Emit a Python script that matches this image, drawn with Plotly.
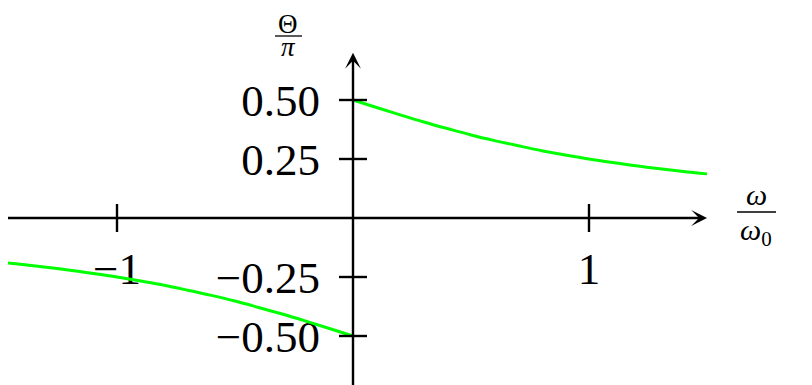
import plotly.graph_objects as go

# Data: phase Θ/π versus ω/ω0
omega_pos = [0.0, 0.1, 0.2, 0.3, 0.4, 0.5, 0.6, 0.7, 0.8, 0.9, 1.0, 1.1, 1.2, 1.3, 1.4, 1.5]
theta_pos = [0.500, 0.468, 0.437, 0.407, 0.379, 0.352, 0.328, 0.306, 0.285, 0.267,
             0.250, 0.235, 0.221, 0.209, 0.197, 0.187]
omega_neg = [-1.5, -1.4, -1.3, -1.2, -1.1, -1.0, -0.9, -0.8, -0.7, -0.6, -0.5, -0.4, -0.3, -0.2, -0.1, 0.0]
theta_neg = [-0.187, -0.197, -0.209, -0.221, -0.235, -0.250, -0.267, -0.285, -0.306, -0.328,
             -0.352, -0.379, -0.407, -0.437, -0.468, -0.500]

x_ticks = [-1, 1]
x_tick_text = ["\u22121", "1"]
y_ticks = [-0.5, -0.25, 0.25, 0.5]
y_tick_text = ["\u22120.50", "\u22120.25", "0.25", "0.50"]

x_axis_span = [-1.55, 1.5]
y_axis_span = [-0.72, 0.70]

# the page body has an 8px margin; lay out the figure so page pixels match
OFF = 8
W, H = 812 - OFF, 385 - OFF
SCALE = 236.0  # px per unit
X0_PX, Y0_PX = 353.0 - OFF, 218.0 - OFF
x_range = [-X0_PX / SCALE, (W - X0_PX) / SCALE]
y_range = [-(H - Y0_PX) / SCALE, Y0_PX / SCALE]


def px_x(p):
    return (p - OFF - X0_PX) / SCALE


def px_y(p):
    return (Y0_PX - (p - OFF)) / SCALE


FONT = "Liberation Serif"
GREEN = "#00FF00"
AX_W = 2.4

fig = go.Figure()
fig.add_trace(go.Scatter(x=omega_pos, y=theta_pos, mode="lines",
                         line=dict(color=GREEN, width=3, shape="spline"),
                         hoverinfo="skip", showlegend=False))
fig.add_trace(go.Scatter(x=omega_neg, y=theta_neg, mode="lines",
                         line=dict(color=GREEN, width=3, shape="spline"),
                         hoverinfo="skip", showlegend=False))

# axis lines with arrows
fig.add_annotation(x=x_axis_span[1], y=0, ax=x_axis_span[0], ay=0, axref="x", ayref="y",
                   xref="x", yref="y", text="", showarrow=True, arrowhead=3,
                   arrowwidth=AX_W, arrowsize=1.1, arrowcolor="black")
fig.add_annotation(x=0, y=y_axis_span[1], ax=0, ay=y_axis_span[0], axref="x", ayref="y",
                   xref="x", yref="y", text="", showarrow=True, arrowhead=3,
                   arrowwidth=AX_W, arrowsize=1.1, arrowcolor="black")

# crossing tick marks derived from tick arrays
for v in x_ticks:
    fig.add_shape(type="line", xref="x", yref="y", x0=v, x1=v, ysizemode="pixel",
                  yanchor=0, y0=-14, y1=14, line=dict(color="black", width=AX_W))
for v in y_ticks:
    fig.add_shape(type="line", xref="x", yref="y", y0=v, y1=v, xsizemode="pixel",
                  xanchor=0, x0=-14, x1=14, line=dict(color="black", width=AX_W))

# axis titles as fractions
fig.add_shape(type="line", x0=px_x(275), x1=px_x(302), y0=px_y(36), y1=px_y(36),
              line=dict(color="black", width=1.3))
fig.add_annotation(x=px_x(288), xref="x", y=1, yref="paper", yanchor="top",
                   text="<span style='font-size:27px'>\u0398</span><br>"
                        "<span style='font-size:27px'><i>\u03c0</i></span>",
                   borderpad=0, showarrow=False,
                   font=dict(family=FONT, size=18, color="black"))

title_font = dict(family=FONT, size=30, color="black")
fig.add_shape(type="line", x0=px_x(737), x1=px_x(776), y0=px_y(212), y1=px_y(212),
              line=dict(color="black", width=1.3))
fig.add_annotation(x=px_x(756), y=px_y(212), text="<i>\u03c9</i>", yanchor="bottom",
                   borderpad=0, showarrow=False, font=title_font)
fig.add_annotation(x=px_x(756), y=px_y(212),
                   text="<i>\u03c9</i><sub>0</sub>",
                   yanchor="top", borderpad=0, showarrow=False, font=title_font)

tick_font = dict(family=FONT, size=45, color="black")
fig.update_layout(
    width=W, height=H,
    margin=dict(l=0, r=0, t=0, b=0),
    paper_bgcolor="white", plot_bgcolor="white",
    xaxis=dict(range=x_range, domain=[0, 1], anchor="free", position=(H - Y0_PX) / H,
               tickvals=x_ticks, ticktext=x_tick_text, ticks="", showgrid=False,
               zeroline=False, showline=False, tickfont=tick_font,
               ticklabelstandoff=20, layer="below traces", fixedrange=True),
    yaxis=dict(range=y_range, domain=[0, 1], anchor="free", position=X0_PX / W,
               tickvals=y_ticks, ticktext=y_tick_text, ticks="", showgrid=False,
               zeroline=False, showline=False, tickfont=tick_font,
               ticklabelstandoff=33, layer="below traces", fixedrange=True),
    showlegend=False,
)

fig.write_html("out.html")
